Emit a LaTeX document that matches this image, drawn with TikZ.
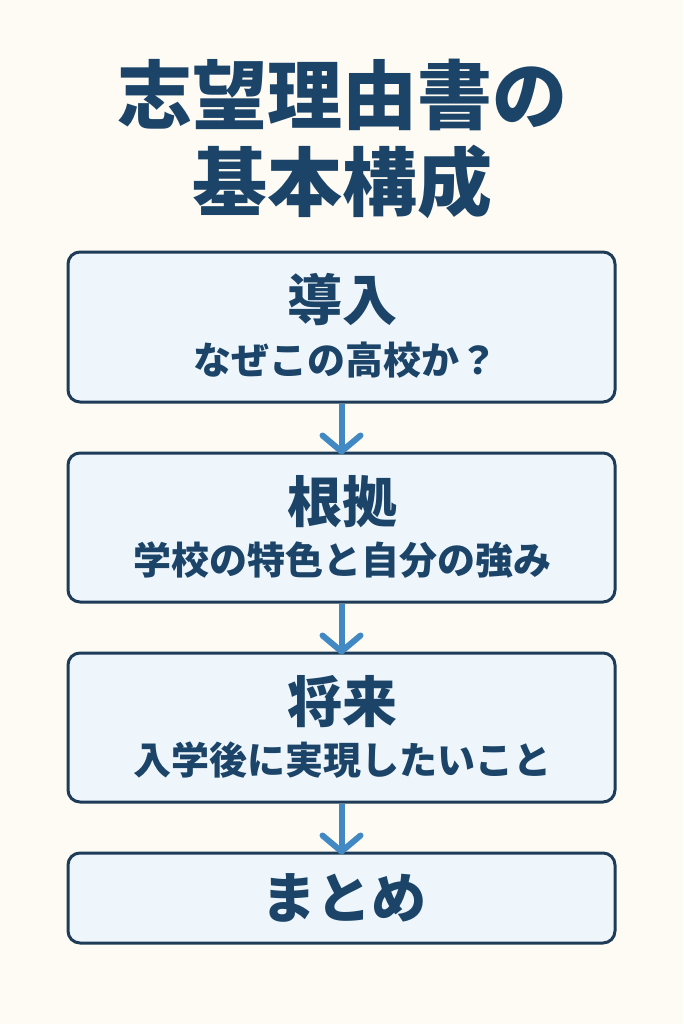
\documentclass[tikz,border=0pt]{standalone}
\usepackage{fontspec}
\setmainfont{Noto Sans CJK JP}
\usetikzlibrary{arrows.meta}
\definecolor{bg}{HTML}{FDFBF4}
\definecolor{navy}{HTML}{1B4468}
\definecolor{boxline}{HTML}{1E3B58}
\definecolor{boxfill}{HTML}{EEF6FC}
\definecolor{arrowblue}{HTML}{4288C3}
\begin{document}
\begin{tikzpicture}[x=1pt,y=-1pt,
  stagebox/.style={draw=boxline,fill=boxfill,line width=3pt,rounded corners=12pt,
    minimum width=547pt,inner sep=0pt},
  headtxt/.style={text=navy,font=\fontsize{55}{60}\selectfont\bfseries,inner sep=0pt},
  subtxt/.style={text=navy,font=\fontsize{38}{40}\selectfont\bfseries,inner sep=0pt},
  titletxt/.style={text=navy,font=\fontsize{75}{86}\selectfont\bfseries,inner sep=0pt,align=center},
  flow/.style={draw=arrowblue,line width=6pt,-{Straight Barb[length=16pt,width=38pt,round]}}]
\fill[bg] (0,0) rectangle (683,1024);
\useasboundingbox (0,0) rectangle (683,1024);
\node[titletxt] (t1) at (342,95) {志望理由書の};
\node[titletxt] (t2) at (342,182) {基本構成};
\node[stagebox,minimum height=150pt] (b1) at (341.5,327) {};
\node[stagebox,minimum height=149pt] (b2) at (341.5,527.5) {};
\node[stagebox,minimum height=149pt] (b3) at (341.5,727.5) {};
\node[stagebox,minimum height=90pt] (b4) at (341.5,898) {};
\node[headtxt] (h1) at (342,300) {導入};
\node[subtxt] (s1) at (345,360) {なぜこの高校か？};
\node[headtxt] (h2) at (342,502) {根拠};
\node[subtxt] (s2) at (342,560) {学校の特色と自分の強み};
\node[headtxt] (h3) at (342,702) {将来};
\node[subtxt] (s3) at (342,760) {入学後に実現したいこと};
\node[headtxt] (h4) at (344,898) {まとめ};
\draw[flow] (b1.south) -- ([yshift=-3pt]b2.north);
\draw[flow] (b2.south) -- ([yshift=-3pt]b3.north);
\draw[flow] (b3.south) -- ([yshift=-3pt]b4.north);
\end{tikzpicture}
\end{document}
